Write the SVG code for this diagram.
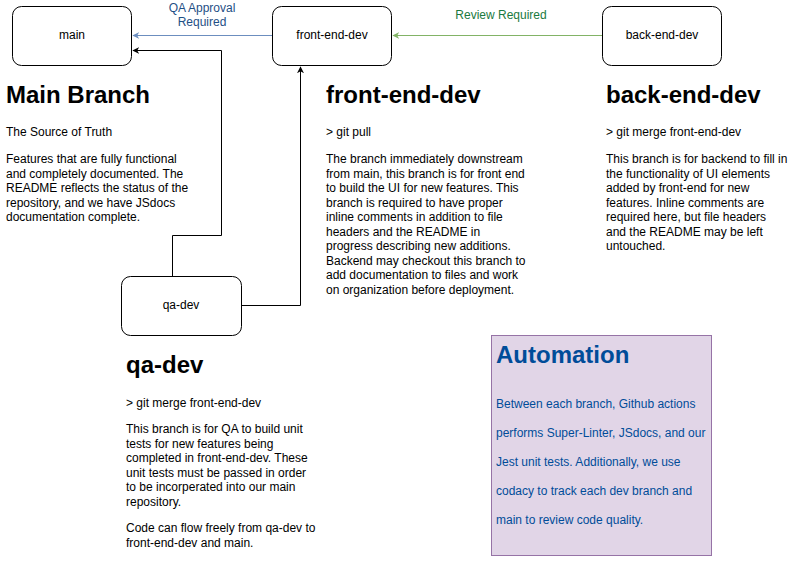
<svg xmlns="http://www.w3.org/2000/svg" width="794" height="568" viewBox="0 0 794 568">
<style>
text{font-family:"Liberation Sans",Arial,Helvetica,sans-serif;}
.node rect{fill:#fff;stroke:#000;stroke-width:1;}
.lbl{font-size:12px;fill:#000;text-anchor:middle;}
.h{font-size:24px;font-weight:bold;fill:#000;}
.t{font-size:12px;fill:#000;}
.edge{fill:none;stroke-width:1;}
</style>
<defs>
<marker id="ab" viewBox="0 0 10 10" refX="9" refY="5" markerWidth="7" markerHeight="7" orient="auto"><path d="M0,0 L10,5 L0,10 L3,5 z" fill="#000"/></marker>
<marker id="abl" viewBox="0 0 10 10" refX="9" refY="5" markerWidth="7" markerHeight="7" orient="auto"><path d="M0,0 L10,5 L0,10 L3,5 z" fill="#6c8ebf"/></marker>
<marker id="agr" viewBox="0 0 10 10" refX="9" refY="5" markerWidth="7" markerHeight="7" orient="auto"><path d="M0,0 L10,5 L0,10 L3,5 z" fill="#82b366"/></marker>
</defs>
<rect width="794" height="568" fill="#fff"/>
<g id="connectors">
<path class="edge" d="M272,35.5 L133,35.5" stroke="#6c8ebf" marker-end="url(#abl)"/>
<text class="lbl" x="202" y="12" style="fill:#1f4f85">QA Approval</text>
<text class="lbl" x="202" y="26" style="fill:#1f4f85">Required</text>
<path class="edge" d="M602,35.5 L393,35.5" stroke="#82b366" marker-end="url(#agr)"/>
<text class="lbl" x="501" y="19" style="fill:#1a7a40">Review Required</text>
<path class="edge" d="M172.5,276 L172.5,235.5 L221.5,235.5 L221.5,50.5 L133,50.5" stroke="#000" marker-end="url(#ab)"/>
<path class="edge" d="M241,305.5 L300.5,305.5 L300.5,67" stroke="#000" marker-end="url(#ab)"/>
</g>
<g id="main" class="node"><rect x="12.5" y="6.5" width="119" height="59" rx="9"/><text class="lbl" x="72" y="39">main</text></g>
<g id="front-end-dev" class="node"><rect x="272.5" y="6.5" width="119" height="59" rx="9"/><text class="lbl" x="332" y="39">front-end-dev</text></g>
<g id="back-end-dev" class="node"><rect x="602.5" y="6.5" width="119" height="59" rx="9"/><text class="lbl" x="662" y="39">back-end-dev</text></g>
<g id="qa-dev" class="node"><rect x="121.5" y="276.5" width="120" height="59" rx="9"/><text class="lbl" x="181" y="309">qa-dev</text></g>
<g id="main-text">
<text class="h" x="6" y="103">Main Branch</text>
<text class="t" x="6" y="136">The Source of Truth</text>
<text class="t" x="6" y="163">Features that are fully functional</text>
<text class="t" x="6" y="177.5">and completely documented. The</text>
<text class="t" x="6" y="192">README reflects the status of the</text>
<text class="t" x="6" y="206.5">repository, and we have JSdocs</text>
<text class="t" x="6" y="221">documentation complete.</text>
</g>
<g id="front-end-dev-text">
<text class="h" x="326" y="103">front-end-dev</text>
<text class="t" x="326" y="136">&gt; git pull</text>
<text class="t" x="326" y="163">The branch immediately downstream</text>
<text class="t" x="326" y="177.5">from main, this branch is for front end</text>
<text class="t" x="326" y="192">to build the UI for new features. This</text>
<text class="t" x="326" y="206.5">branch is required to have proper</text>
<text class="t" x="326" y="221">inline comments in addition to file</text>
<text class="t" x="326" y="235.5">headers and the README in</text>
<text class="t" x="326" y="250">progress describing new additions.</text>
<text class="t" x="326" y="264.5">Backend may checkout this branch to</text>
<text class="t" x="326" y="279">add documentation to files and work</text>
<text class="t" x="326" y="293.5">on organization before deployment.</text>
</g>
<g id="back-end-dev-text">
<text class="h" x="606" y="103">back-end-dev</text>
<text class="t" x="606" y="136">&gt; git merge front-end-dev</text>
<text class="t" x="606" y="163">This branch is for backend to fill in</text>
<text class="t" x="606" y="177.5">the functionality of UI elements</text>
<text class="t" x="606" y="192">added by front-end for new</text>
<text class="t" x="606" y="206.5">features. Inline comments are</text>
<text class="t" x="606" y="221">required here, but file headers</text>
<text class="t" x="606" y="235.5">and the README may be left</text>
<text class="t" x="606" y="250">untouched.</text>
</g>
<g id="qa-dev-text">
<text class="h" x="126" y="373">qa-dev</text>
<text class="t" x="126" y="407">&gt; git merge front-end-dev</text>
<text class="t" x="126" y="433">This branch is for QA to build unit</text>
<text class="t" x="126" y="447.5">tests for new features being</text>
<text class="t" x="126" y="462">completed in front-end-dev. These</text>
<text class="t" x="126" y="476.5">unit tests must be passed in order</text>
<text class="t" x="126" y="491">to be incorperated into our main</text>
<text class="t" x="126" y="505.5">repository.</text>
<text class="t" x="126" y="532">Code can flow freely from qa-dev to</text>
<text class="t" x="126" y="546.5">front-end-dev and main.</text>
</g>
<g id="automation">
<rect x="491.5" y="335.5" width="220" height="220" fill="#e1d5e7" stroke="#9673a6"/>
<text class="h" x="496" y="363" style="fill:#004c99">Automation</text>
<text class="t" x="496" y="408" style="fill:#004c99">Between each branch, Github actions</text>
<text class="t" x="496" y="437" style="fill:#004c99">performs Super-Linter, JSdocs, and our</text>
<text class="t" x="496" y="466" style="fill:#004c99">Jest unit tests. Additionally, we use</text>
<text class="t" x="496" y="494.5" style="fill:#004c99">codacy to track each dev branch and</text>
<text class="t" x="496" y="523.5" style="fill:#004c99">main to review code quality.</text>
</g>
</svg>
